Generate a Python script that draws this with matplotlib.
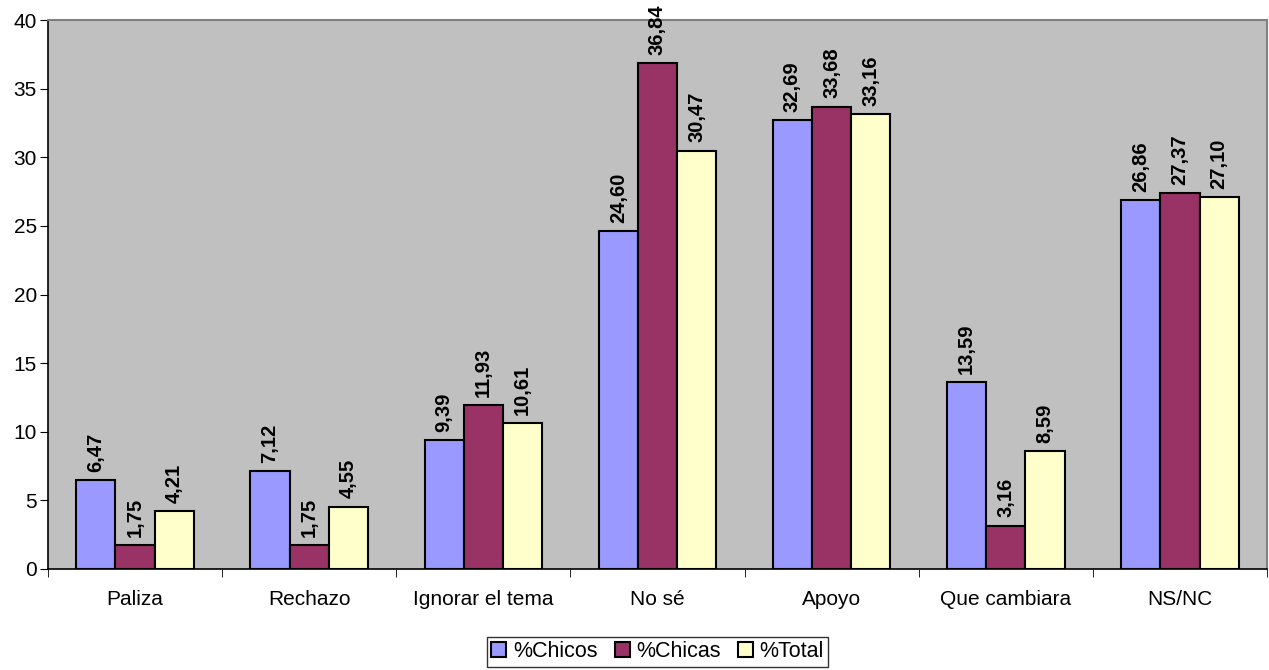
import matplotlib.pyplot as plt
import numpy as np

plt.rcParams['font.family'] = ['Liberation Sans', 'DejaVu Sans']

categorias = ['Paliza', 'Rechazo', 'Ignorar el tema', 'No sé', 'Apoyo', 'Que cambiara', 'NS/NC']
chicos = [6.47, 7.12, 9.39, 24.60, 32.69, 13.59, 26.86]
chicas = [1.75, 1.75, 11.93, 36.84, 33.68, 3.16, 27.37]
total = [4.21, 4.55, 10.61, 30.47, 33.16, 8.59, 27.10]

series = [('%Chicos', chicos, '#9999FF'),
          ('%Chicas', chicas, '#993366'),
          ('%Total', total, '#FFFFCC')]

fig = plt.figure(figsize=(12.69, 6.70), dpi=100)
ax = fig.add_axes([48 / 1269, 101 / 670, 1219 / 1269, 549 / 670])
ax.set_facecolor('#C0C0C0')

x = np.arange(len(categorias))
w = 0.225
for i, (nombre, vals, color) in enumerate(series):
    pos = x + (i - 1) * w
    ax.bar(pos, vals, w, color=color, edgecolor='black', linewidth=1.5, label=nombre)
    for p, v in zip(pos, vals):
        ax.annotate(f"{v:.2f}".replace('.', ','), (p, v), xytext=(0, 6),
                    textcoords='offset points', rotation=90, ha='center', va='bottom',
                    fontsize=14.5, fontweight='bold', annotation_clip=False)

ax.set_xlim(-0.5, len(categorias) - 0.5)
ax.set_ylim(0, 40)
ax.set_yticks(range(0, 41, 5))
ax.set_xticks(x)
ax.set_xticklabels(categorias)
ax.set_xticks(np.arange(-0.5, len(categorias), 1), minor=True)
ax.tick_params(axis='x', which='major', length=0, pad=15, labelsize=15)
ax.tick_params(axis='x', which='minor', length=6, direction='out')
ax.tick_params(axis='y', length=6, direction='out', labelsize=15, pad=2)

for s in ['left', 'bottom']:
    ax.spines[s].set_color('black')
    ax.spines[s].set_linewidth(1.2)
for s in ['top', 'right']:
    ax.spines[s].set_color('#808080')
    ax.spines[s].set_linewidth(1.5)

leg = ax.legend(loc='upper center', bbox_to_anchor=(0.5, -0.124), ncol=3,
                fontsize=15.5, frameon=True, fancybox=False, edgecolor='black',
                handlelength=0.7, handleheight=0.7, handletextpad=0.3,
                columnspacing=0.8, borderpad=0.2, borderaxespad=0)
leg.get_frame().set_linewidth(1.0)

fig.savefig('out.png', dpi=100)
